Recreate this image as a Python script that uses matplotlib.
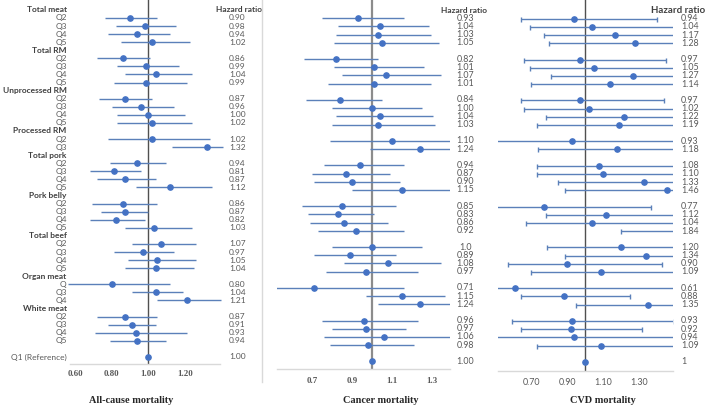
import numpy as np
import matplotlib
matplotlib.use('Agg')
import matplotlib.pyplot as plt
import matplotlib.transforms as mtransforms
from matplotlib.lines import Line2D

groups = ['Total meat', 'Total RM', 'Unprocessed RM', 'Processed RM', 'Total pork',
          'Pork belly', 'Total beef', 'Organ meat', 'White meat']
subgroups = [['Q2', 'Q3', 'Q4', 'Q5'], ['Q2', 'Q3', 'Q4', 'Q5'], ['Q2', 'Q3', 'Q4', 'Q5'],
             ['Q2', 'Q3'], ['Q2', 'Q3', 'Q4', 'Q5'], ['Q2', 'Q3', 'Q4', 'Q5'],
             ['Q2', 'Q3', 'Q4', 'Q5'], ['Q', 'Q3', 'Q4'], ['Q2', 'Q3', 'Q4', 'Q5']]
ref_label = 'Q1 (Reference)'
ref_hr = 1.00

# all-cause mortality
all_hr = [0.90, 0.98, 0.94, 1.02, 0.86, 0.99, 1.04, 0.99, 0.87, 0.96, 1.00, 1.02, 1.02, 1.32,
          0.94, 0.81, 0.87, 1.12, 0.86, 0.87, 0.82, 1.03, 1.07, 0.97, 1.05, 1.04, 0.80, 1.04, 1.21,
          0.87, 0.91, 0.93, 0.94]
all_lo = [0.76, 0.82, 0.78, 0.85, 0.72, 0.83, 0.87, 0.81, 0.73, 0.80, 0.83, 0.83, 0.78, 1.13,
          0.79, 0.68, 0.72, 0.93, 0.69, 0.74, 0.68, 0.87, 0.91, 0.81, 0.89, 0.87, 0.56, 0.91, 1.05,
          0.72, 0.78, 0.71, 0.79]
all_hi = [1.05, 1.15, 1.12, 1.23, 1.01, 1.17, 1.24, 1.21, 1.02, 1.14, 1.20, 1.24, 1.34, 1.41,
          1.10, 0.96, 1.04, 1.35, 1.05, 1.00, 0.98, 1.24, 1.26, 1.14, 1.26, 1.25, 1.12, 1.19, 1.40,
          1.05, 1.04, 1.21, 1.10]

# cancer mortality
cancer_hr = [0.93, 1.04, 1.03, 1.05, 0.82, 1.01, 1.07, 1.01, 0.84, 1.00, 1.04, 1.03, 1.10, 1.24,
             0.94, 0.87, 0.90, 1.15, 0.85, 0.83, 0.86, 0.92, 1.00, 0.89, 1.08, 0.97, 0.71, 1.15, 1.24,
             0.96, 0.97, 1.06, 0.98]
cancer_lo = [0.75, 0.83, 0.82, 0.81, 0.66, 0.81, 0.85, 0.78, 0.67, 0.80, 0.82, 0.80, 0.79, 0.99,
             0.76, 0.70, 0.71, 0.90, 0.65, 0.68, 0.69, 0.73, 0.80, 0.71, 0.86, 0.77, 0.52, 0.97, 1.03,
             0.75, 0.80, 0.76, 0.79]
cancer_hi = [1.16, 1.29, 1.30, 1.34, 1.03, 1.26, 1.35, 1.30, 1.05, 1.25, 1.31, 1.32, 1.53, 1.56,
             1.16, 1.09, 1.14, 1.47, 1.12, 1.01, 1.08, 1.16, 1.25, 1.12, 1.35, 1.23, 1.16, 1.37, 1.49,
             1.23, 1.17, 1.48, 1.21]

# CVD mortality
cvd_hr = [0.94, 1.04, 1.17, 1.28, 0.97, 1.05, 1.27, 1.14, 0.97, 1.02, 1.22, 1.19, 0.93, 1.18,
          1.08, 1.10, 1.33, 1.46, 0.77, 1.12, 1.04, 1.84, 1.20, 1.34, 0.90, 1.09, 0.61, 0.88, 1.35,
          0.93, 0.92, 0.94, 1.09]
cvd_lo = [0.64, 0.69, 0.77, 0.80, 0.66, 0.69, 0.81, 0.70, 0.64, 0.66, 0.78, 0.73, 0.45, 0.74,
          0.73, 0.73, 0.85, 0.89, 0.47, 0.78, 0.67, 1.20, 0.79, 0.89, 0.57, 0.70, 0.40, 0.64, 0.95,
          0.59, 0.64, 0.48, 0.73]
cvd_hi = [1.40, 1.60, 1.70, 2.00, 1.45, 1.70, 2.10, 1.90, 1.44, 1.60, 1.90, 1.90, 1.80, 1.90,
          1.60, 1.65, 2.10, 2.40, 1.37, 1.60, 1.60, 2.80, 1.80, 2.00, 1.43, 1.70, 1.55, 1.25, 1.90,
          1.50, 1.32, 1.80, 1.60]

# odd labels as printed in the source table
cancer_txt_fix = {22: '1.0'}
cvd_ref_txt = '1'

W, H = 708, 408
BLUE = '#4472C4'
LINE = '#5B80B9'
GRID = '#D9D9D9'
TXT = '#404040'
GRAY = '#595959'
FONT = 'Lato'

fig = plt.figure(figsize=(W / 100, H / 100), dpi=100)


def fx(px):
    return px / W


# build row layout
rows = []   # (row index, label, bold, data index)
r = 0
k = 0
for g, subs in zip(groups, subgroups):
    rows.append((r, g, True, None))
    r += 1
    for s in subs:
        rows.append((r, s, False, k))
        r += 1
        k += 1
ref_row = r + 1
data_rows = [row for row, lab, b, i in rows if i is not None]


def make_axes(left, right, spine_y, y0, dy):
    # y0, dy: pixel position of row 0 and row step
    ax = fig.add_axes([fx(left), (H - spine_y) / H, (right - left) / W, spine_y / H])
    ax.set_ylim((spine_y - y0) / dy, -y0 / dy)
    ax.set_facecolor('none')
    for s in ['top', 'right', 'left']:
        ax.spines[s].set_visible(False)
    ax.spines['bottom'].set_color(GRID)
    ax.spines['bottom'].set_linewidth(1.0)
    ax.set_yticks([])
    ax.tick_params(axis='x', length=0)
    return ax


MS = 3.8

# ---------- All-cause ----------
ax1 = make_axes(70, 220, 364.3, 9.93, 8.07)
ax1.set_xlim(0.57, 1.394)
ax1.axvline(1.0, color='#505050', lw=1.0, zorder=1)
ax1.hlines(data_rows, all_lo, all_hi, color=LINE, lw=1.0, clip_on=False, zorder=2)
ax1.plot(all_hr, data_rows, 'o', color=BLUE, ms=MS, zorder=3)
ax1.plot([ref_hr], [ref_row], 'o', color=BLUE, ms=MS, zorder=3)
ax1.set_xticks([0.6, 0.8, 1.0, 1.2])
ax1.set_xticklabels(['0.60', '0.80', '1.00', '1.20'])
ax1.tick_params(axis='x', pad=4.2)
for t in ax1.get_xticklabels():
    t.set_fontfamily('Liberation Serif')
    t.set_fontweight('bold')
    t.set_fontsize(6.4)
    t.set_color(GRAY)

tr1 = mtransforms.blended_transform_factory(fig.transFigure, ax1.transData)
for row, lab, bold, i in rows:
    ax1.text(fx(66.7), row, lab, transform=tr1, ha='right', va='center',
             fontsize=6.0, fontweight='bold' if bold else 'normal',
             color=TXT if bold else GRAY, family=FONT)
    if i is not None:
        ax1.text(fx(237.5), row, '%.2f' % all_hr[i], transform=tr1, ha='center', va='center',
                 fontsize=6.0, color=GRAY, family=FONT)
ax1.text(fx(66.7), ref_row, ref_label, transform=tr1, ha='right', va='center',
         fontsize=6.0, color=GRAY, family=FONT)
ax1.text(fx(237.5), ref_row, '%.2f' % ref_hr, transform=tr1, ha='center', va='center',
         fontsize=6.0, color=GRAY, family=FONT)
ax1.text(fx(238.5), 0, 'Hazard ratio', transform=tr1, ha='center', va='center',
         fontsize=6.0, fontweight='bold', color=TXT, family=FONT)

# ---------- Cancer ----------
ax2 = make_axes(276.7, 450, 369.3, 10.13, 8.17)
ax2.set_xlim(0.523, 1.393)
ax2.axvline(1.0, color='#8C8C8C', lw=1.6, zorder=1)
ax2.hlines(data_rows, cancer_lo, cancer_hi, color=LINE, lw=1.0, zorder=2)
ax2.plot(cancer_hr, data_rows, 'o', color=BLUE, ms=MS, zorder=3)
ax2.plot([ref_hr], [ref_row], 'o', color=BLUE, ms=MS, zorder=3)
ax2.set_xticks([0.7, 0.9, 1.1, 1.3])
ax2.set_xticklabels(['0.7', '0.9', '1.1', '1.3'])
ax2.tick_params(axis='x', pad=5.8)
for t in ax2.get_xticklabels():
    t.set_fontfamily('Liberation Serif')
    t.set_fontweight('bold')
    t.set_fontsize(6.4)
    t.set_color(GRAY)

tr2 = mtransforms.blended_transform_factory(fig.transFigure, ax2.transData)
for row, lab, bold, i in rows:
    if i is not None:
        s = cancer_txt_fix.get(i, '%.2f' % cancer_hr[i])
        ax2.text(fx(465.3), row, s, transform=tr2, ha='center', va='center',
                 fontsize=6.4, color=GRAY, family=FONT)
ax2.text(fx(465.3), ref_row, '%.2f' % ref_hr, transform=tr2, ha='center', va='center',
         fontsize=6.4, color=GRAY, family=FONT)
ax2.text(fx(464), 0, 'Hazard ratio', transform=tr2, ha='center', va='center',
         fontsize=6.0, fontweight='bold', color=TXT, family=FONT)

# ---------- CVD ----------
ax3 = make_axes(498, 672.7, 370.7, 10.53, 8.17)
ax3.set_xlim(0.514, 1.49)
ax3.axvline(1.0, color='#505050', lw=1.0, zorder=1)
cvd_hr_a = np.array(cvd_hr)
xerr = [cvd_hr_a - np.array(cvd_lo), np.array(cvd_hi) - cvd_hr_a]
ax3.errorbar(cvd_hr, data_rows, xerr=xerr, fmt='none', ecolor=LINE, elinewidth=1.0,
             capsize=1.8, capthick=1.0, zorder=2)
ax3.plot(cvd_hr, data_rows, 'o', color=BLUE, ms=MS, zorder=3)
ax3.plot([ref_hr], [ref_row], 'o', color=BLUE, ms=MS, zorder=3)
ax3.set_xticks([0.7, 0.9, 1.1, 1.3])
ax3.set_xticklabels(['0.70', '0.90', '1.10', '1.30'])
ax3.tick_params(axis='x', pad=5.5)
for t in ax3.get_xticklabels():
    t.set_fontfamily(FONT)
    t.set_fontsize(6.4)
    t.set_color(GRAY)

tr3 = mtransforms.blended_transform_factory(fig.transFigure, ax3.transData)
for row, lab, bold, i in rows:
    if i is not None:
        ax3.text(fx(681), row, '%.2f' % cvd_hr[i], transform=tr3, ha='left', va='center',
                 fontsize=6.4, color=GRAY, family=FONT)
ax3.text(fx(681), ref_row, cvd_ref_txt, transform=tr3, ha='left', va='center',
         fontsize=6.4, color=GRAY, family=FONT)
ax3.text(fx(678), 0, 'Hazard ratio', transform=tr3, ha='center', va='center',
         fontsize=7.0, fontweight='bold', color=TXT, family=FONT)

# separator between first and second panel
fig.add_artist(Line2D([fx(262), fx(262)], [(H - 382) / H, 1.0], color=GRID, lw=1.0))

# panel titles
for cx, title in [(131, 'All-cause mortality'), (380.8, 'Cancer mortality'), (602.6, 'CVD mortality')]:
    fig.text(fx(cx), (H - 400.7) / H, title, ha='center', va='center', fontsize=7.4,
             fontweight='bold', family='Liberation Serif', color='#262626')

fig.savefig('out.png', dpi=100)
